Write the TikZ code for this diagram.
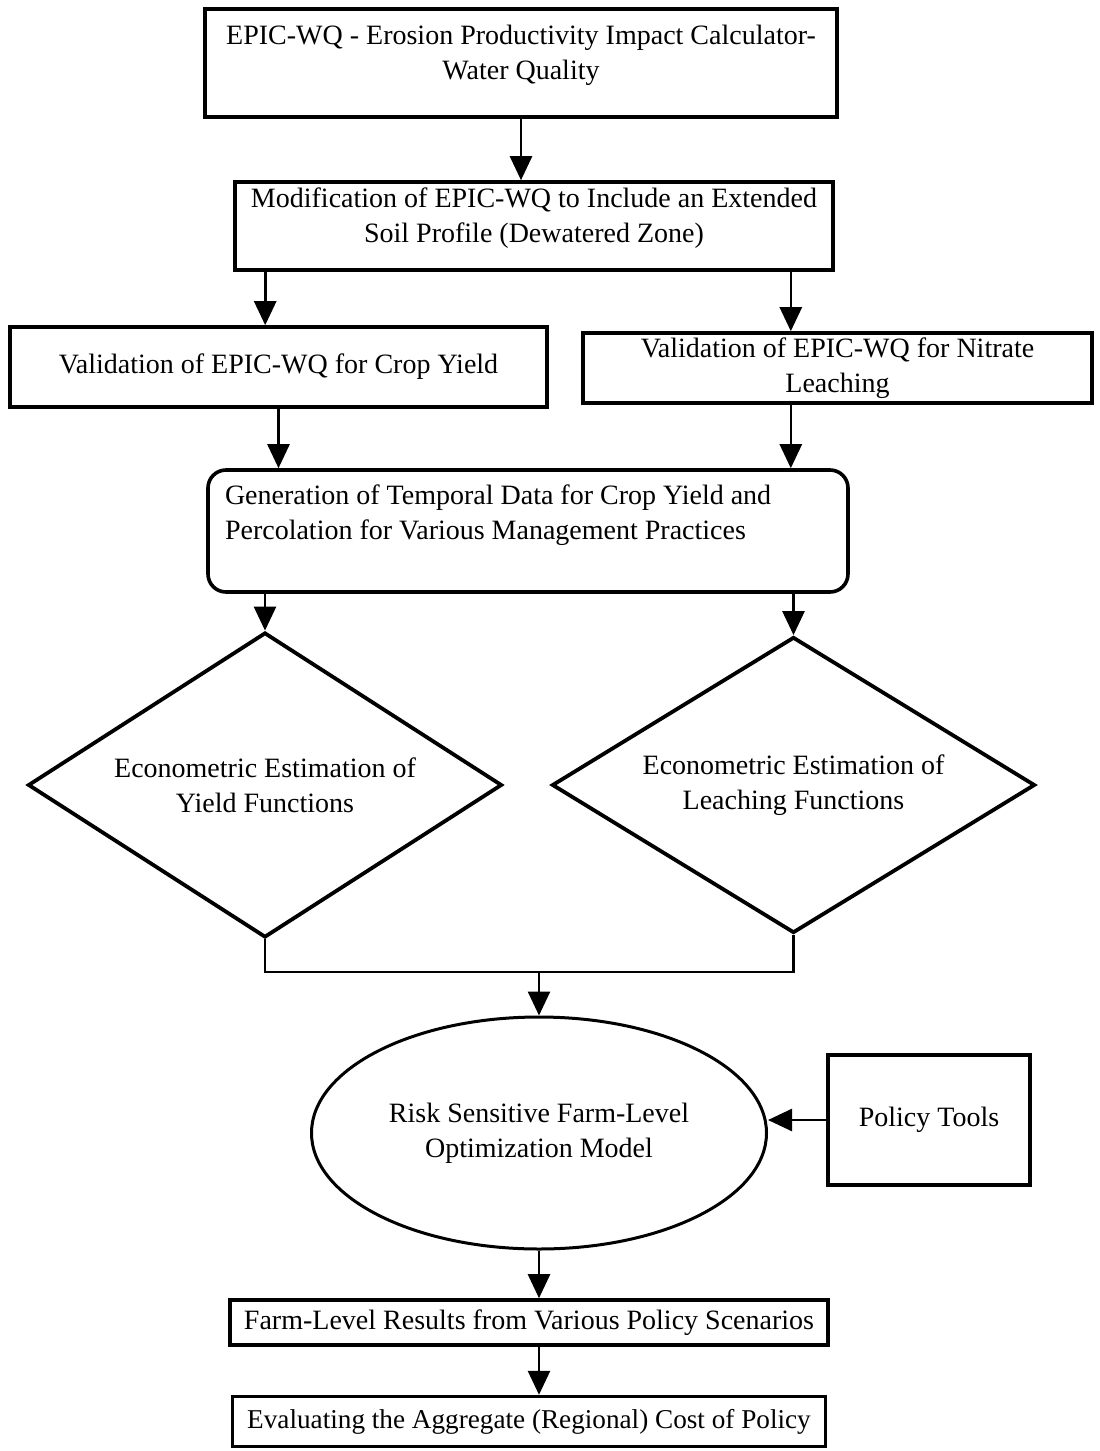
\documentclass[tikz,border=0pt]{standalone}
\usepackage{fontspec}
\setmainfont{Liberation Serif}
\usepackage{tikz}
\usetikzlibrary{shapes.geometric, arrows.meta, positioning, calc}
\tikzstyle{block} = [rectangle, draw, line width=1.8pt, align=center, inner sep=0pt]
\tikzstyle{decision} = [diamond, draw, line width=1.9pt, align=center, aspect=1.55, inner sep=0pt]
\tikzstyle{model} = [ellipse, draw, line width=1.5pt, align=center, inner sep=0pt]
\tikzstyle{arrow} = [line width=1.3pt,-{Triangle[length=12pt,width=11pt]}]
\tikzstyle{line} = [line width=1.3pt]

\begin{document}
\begin{tikzpicture}[x=0.5pt, y=-0.5pt, font=\fontsize{14}{17.5}\selectfont]
    \useasboundingbox (0,0) rectangle (1099,1451);
    % EPIC-WQ Layer
    
\node[block, minimum width=316pt, minimum height=54pt] (epic) at (521,63) {EPIC-WQ - Erosion Productivity Impact Calculator-\\Water Quality\\[-6.5pt]\mbox{}};
    
\node[block, minimum width=299pt, minimum height=44pt] (modif) at (534,226) {Modification of EPIC-WQ to Include an Extended\\Soil Profile (Dewatered Zone)\\[-6.5pt]\mbox{}};
    
    % Validation Layer
    
\node[block, minimum width=268.5pt, minimum height=40pt] (valyield) at (278.5,367) {Validation of EPIC-WQ for Crop Yield};
    
\node[block, minimum width=254.5pt, minimum height=35pt] (valnitrate) at (837.5,368) {Validation of EPIC-WQ for Nitrate\\Leaching};
    
\node[block, rounded corners=9pt, minimum width=320pt, minimum height=61pt, text width=303pt, align=flush left] (gendata) at (528,531) {Generation of Temporal Data for Crop Yield and\\Percolation for Various Management Practices\\[1.5pt]\mbox{}};
    
    % Estimation Layer
    
\node[decision, minimum width=237pt, minimum height=152.5pt] (econyield) at (265,785) {Econometric Estimation of\\Yield Functions};
    
\node[decision, minimum width=241.5pt, minimum height=148pt] (econleach) at (793.5,785) {Econometric Estimation of\\Leaching Functions};
    
    % Optimization Layer
    
\node[model, minimum width=227.5pt, minimum height=116pt] (riskmodel) at (539,1133) {Risk Sensitive Farm-Level\\Optimization Model};
    
\node[block, minimum width=101pt, minimum height=65pt] (policy) at (929,1120) {Policy Tools};
    
    % Results Layer
    
\node[block, minimum width=299pt, minimum height=22.5pt] (farmres) at (529,1322.5) {Farm-Level Results from Various Policy Scenarios};
    
\node[block, minimum width=296.5pt, minimum height=25pt, below=24pt of farmres, font=\fontsize{13.6}{17}\selectfont] (aggcost) {Evaluating the Aggregate (Regional) Cost of Policy};
    
    % Arrows
    \draw[arrow] (epic.south) -- (epic.south |- modif.north);
    \draw[arrow] ([xshift=16pt]modif.south west) -- ([xshift=16pt]modif.south west |- valyield.north);
    \draw[arrow] ([xshift=-22pt]modif.south east) -- ([xshift=-22pt]modif.south east |- valnitrate.north);
    \draw[arrow] (valyield.south) -- (valyield.south |- gendata.north);
    \draw[arrow] ([xshift=-29.5pt]gendata.north east |- valnitrate.south) -- ([xshift=-29.5pt]gendata.north east);
    \draw[arrow] (econyield.north |- gendata.south) -- (econyield.north);
    \draw[arrow] (econleach.north |- gendata.south) -- (econleach.north);
    \coordinate (merge) at (539,972);
    \draw[line] (econyield.south) |- (merge) -| (econleach.south);
    \draw[arrow] (merge) -- (riskmodel.north);
    \draw[arrow] (policy.west) -- (policy.west -| riskmodel.east);
    \draw[arrow] (riskmodel.south) -- (riskmodel.south |- farmres.north);
    \draw[arrow] (riskmodel.south |- farmres.south) -- (riskmodel.south |- aggcost.north);
\end{tikzpicture}
\end{document}
